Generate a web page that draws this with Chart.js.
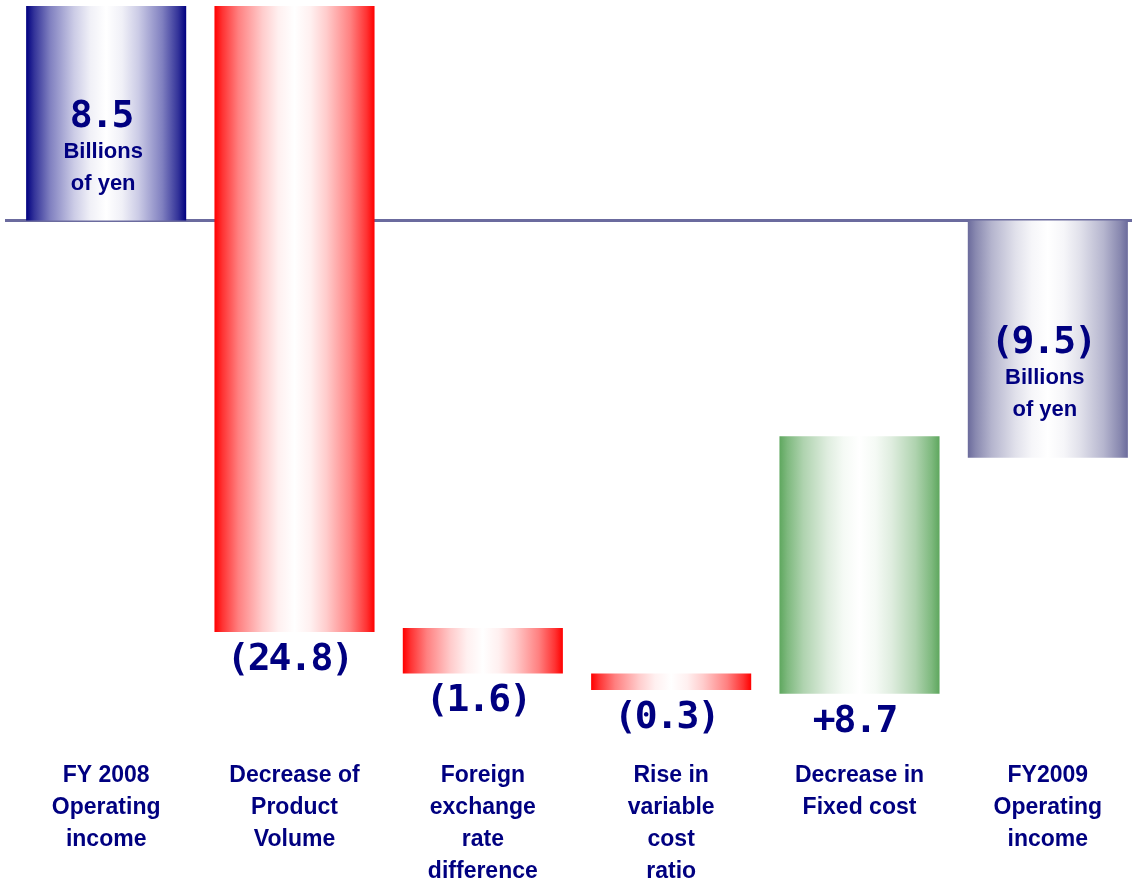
<!DOCTYPE html>
<html>
<head>
<meta charset="utf-8">
<script src="https://cdn.jsdelivr.net/npm/chart.js@4.4.1/dist/chart.umd.min.js"></script>
<style>
  html, body { margin: 0; padding: 0; overflow: hidden; background: #fff; }
  #wrap { width: 1147px; height: 888px; position: relative; }
</style>
</head>
<body>
<div id="wrap"><canvas id="waterfall"></canvas></div>
<script>
// categories (multi-line tick labels)
const categories = [
  ['FY 2008', 'Operating', 'income'],
  ['Decrease of', 'Product', 'Volume'],
  ['Foreign', 'exchange', 'rate', 'difference'],
  ['Rise in', 'variable', 'cost', 'ratio'],
  ['Decrease in', 'Fixed cost'],
  ['FY2009', 'Operating', 'income']
];

// floating bar ends (billions of yen)
const barFrom = [0, 8.5, -16.15, -17.95, -18.75, 0];
const barTo = [8.5, -16.3, -17.95, -18.6, -8.55, -9.4];

const valueLabels = ['8.5', '(24.8)', '(1.6)', '(0.3)', '+8.7', '(9.5)'];
const unitLabel = ['Billions', 'of yen'];
const isTotal = [true, false, false, false, false, true];

const edgeColors = [[0, 0, 128], [255, 0, 0], [255, 0, 0], [255, 0, 0], [94, 167, 94], [107, 107, 156]];
const textColor = '#000080';
const barPct = 0.85;

// how much of the edge colour is left, from bar edge (0) to middle (0.5)
const shade = [[0, 1], [0.05, 0.8], [0.15, 0.5], [0.3, 0.2], [0.4, 0.06], [0.5, 0]];

function mix(c, t) {
  const r = Math.round(255 + (c[0] - 255) * t);
  const g = Math.round(255 + (c[1] - 255) * t);
  const b = Math.round(255 + (c[2] - 255) * t);
  return `rgb(${r},${g},${b})`;
}

function barGradient(context) {
  const chart = context.chart;
  const i = context.dataIndex;
  const xs = chart.scales.x;
  if (i === undefined || !xs || !chart.chartArea) return mix(edgeColors[0], 1);
  const cx = xs.getPixelForValue(i);
  const w = xs.width / categories.length * barPct;
  const g = chart.ctx.createLinearGradient(cx - w / 2, 0, cx + w / 2, 0);
  shade.forEach(([p, t]) => {
    g.addColorStop(p, mix(edgeColors[i], t));
    g.addColorStop(1 - p, mix(edgeColors[i], t));
  });
  return g;
}

// horizontal zero line, behind the bars
const zeroLine = {
  id: 'zeroLine',
  beforeDatasetsDraw(chart) {
    const ctx = chart.ctx;
    const y = chart.scales.y.getPixelForValue(0);
    ctx.save();
    ctx.strokeStyle = '#6b6b9e';
    ctx.lineWidth = 3;
    ctx.beginPath();
    ctx.moveTo(5, y);
    ctx.lineTo(chart.width, y);
    ctx.stroke();
    ctx.restore();
  }
};

const valueText = {
  id: 'valueText',
  afterDatasetsDraw(chart) {
    const ctx = chart.ctx;
    const meta = chart.getDatasetMeta(0);
    ctx.save();
    ctx.fillStyle = textColor;
    ctx.textAlign = 'center';
    ctx.textBaseline = 'middle';
    meta.data.forEach((el, i) => {
      const top = Math.min(el.y, el.base);
      const bottom = Math.max(el.y, el.base);
      const ny = isTotal[i] ? (top + bottom) / 2 + 4 : bottom + 28;
      ctx.font = 'bold 38px "DejaVu Sans Mono", monospace';
      ctx.letterSpacing = '-2px';
      ctx.fillText(valueLabels[i], el.x - 5, ny);
      ctx.letterSpacing = '0px';
      if (isTotal[i]) {
        ctx.font = 'bold 22px "Liberation Sans", Arial, sans-serif';
        ctx.fillText(unitLabel[0], el.x - 3, ny + 35);
        ctx.fillText(unitLabel[1], el.x - 3, ny + 67);
      }
    });
    ctx.restore();
  }
};

new Chart(document.getElementById('waterfall'), {
  type: 'bar',
  data: {
    labels: categories,
    datasets: [{
      data: barFrom.map((f, i) => [f, barTo[i]]),
      backgroundColor: barGradient,
      borderWidth: 0,
      barPercentage: barPct,
      categoryPercentage: 1
    }]
  },
  options: {
    responsive: true,
    maintainAspectRatio: false,
    animation: false,
    layout: { padding: { left: 12, right: 5, top: 0, bottom: 0 } },
    plugins: {
      legend: { display: false },
      tooltip: { enabled: false }
    },
    scales: {
      y: {
        display: false,
        min: -21.38,
        max: 8.736
      },
      x: {
        grid: { display: false, drawTicks: false },
        border: { display: false },
        ticks: {
          color: textColor,
          padding: 0,
          maxRotation: 0,
          autoSkip: false,
          font: { family: '"Liberation Sans", Arial, sans-serif', size: 23, weight: 'bold', lineHeight: 1.39 }
        }
      }
    }
  },
  plugins: [zeroLine, valueText]
});
</script>
</body>
</html>
